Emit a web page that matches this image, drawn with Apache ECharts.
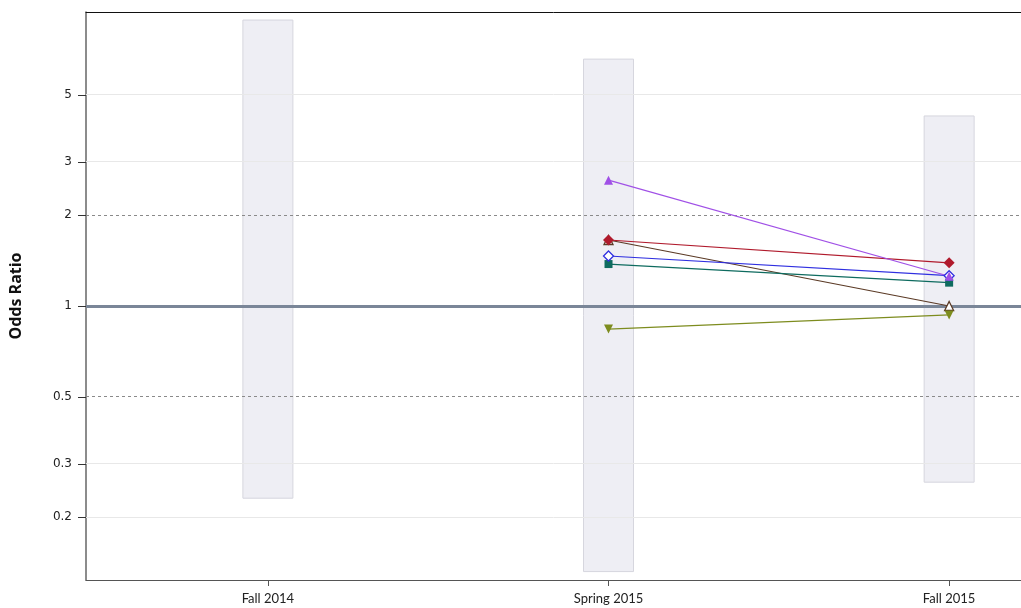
<!DOCTYPE html>
<html>
<head>
<meta charset="utf-8">
<script src="https://cdn.jsdelivr.net/npm/echarts@6/dist/echarts.min.js"></script>
<style>html,body{margin:0;padding:0;background:#fff}#chart{width:1021px;height:608px}</style>
</head>
<body>
<div id="chart"></div>
<script>
// terms on the x axis
const categories = ['Fall 2014', 'Spring 2015', 'Fall 2015'];
const yTicks = [0.2, 0.3, 0.5, 1, 2, 3, 5];
// grey range boxes (odds ratio low / high per term)
const rangeLow = [0.231, 0.132, 0.261];
const rangeHigh = [8.85, 6.57, 4.26];
// odds ratios per group (null = no value)
const purpleVals = [null, 2.61, 1.255];
const redVals = [null, 1.654, 1.39];
const brownVals = [null, 1.654, 1.0];
const blueVals = [null, 1.464, 1.26];
const tealVals = [null, 1.377, 1.195];
const oliveVals = [null, 0.839, 0.934];

const lg = Math.log10;

function toPoints(vals) {
    const out = [];
    vals.forEach(function (v, i) { if (v != null) out.push([i, lg(v)]); });
    return out;
}

function lineSeries(vals, color, symbol, hollow, size) {
    return {
        type: 'line', data: toPoints(vals), z: 5,
        symbol: symbol, symbolSize: size || 9, showAllSymbol: true,
        lineStyle: { color: color, width: 1.2 },
        itemStyle: { color: hollow ? '#fff' : color, borderColor: color, borderWidth: hollow ? 1.3 : 0 },
        animation: false
    };
}

const chart = echarts.init(document.getElementById('chart'));
const option = {
    animation: false,
    grid: { left: 85, right: 0, top: 12, bottom: 28 },
    xAxis: [{
        type: 'value', min: -0.534, max: 2.211,
        axisLine: { onZero: false, lineStyle: { color: '#555', width: 1.2 } },
        axisTick: { customValues: [0, 1, 2], length: 6, lineStyle: { color: '#555' } },
        axisLabel: {
            customValues: [0, 1, 2], margin: 12,
            formatter: function (v) { return categories[Math.round(v)]; },
            color: '#222', fontFamily: 'Lato', fontSize: 13
        },
        splitLine: { show: false }
    }, {
        type: 'value', position: 'top', min: -0.534, max: 2.211,
        axisLine: { show: true, onZero: false, lineStyle: { color: '#111', width: 1 } },
        axisTick: { show: false }, axisLabel: { show: false }, splitLine: { show: false }
    }],
    yAxis: {
        type: 'value', min: lg(0.1238), max: lg(9.41),
        name: 'Odds Ratio', nameLocation: 'middle', nameGap: 62, nameRotate: 90,
        nameTextStyle: { fontFamily: 'Open Sans', fontWeight: 'bold', fontSize: 16, color: '#111' },
        axisLine: { show: true, onZero: false, lineStyle: { color: '#666', width: 1.5 } },
        axisTick: { show: true, customValues: yTicks.map(lg), length: 8, lineStyle: { color: '#333' } },
        axisLabel: {
            customValues: yTicks.map(lg), margin: 14,
            formatter: function (v) { return String(Math.round(Math.pow(10, v) * 10) / 10); },
            color: '#222', fontFamily: 'DejaVu Sans', fontSize: 12
        },
        splitLine: { show: false }
    },
    series: [
        {
            type: 'custom', z: 1,
            data: categories.map(function (c, i) { return [i, lg(rangeLow[i]), lg(rangeHigh[i])]; }),
            encode: { x: 0, y: [1, 2] },
            renderItem: function (params, api) {
                const top = api.coord([api.value(0), api.value(2)]);
                const bot = api.coord([api.value(0), api.value(1)]);
                return {
                    type: 'rect',
                    shape: { x: top[0] - 25, y: top[1], width: 50, height: bot[1] - top[1] },
                    style: { fill: '#eeeef4', stroke: '#d6d6de', lineWidth: 1 }
                };
            }
        },
        {
            type: 'line', data: [], z: 3,
            markLine: {
                silent: true, symbol: 'none', label: { show: false }, animation: false,
                data: [
                    { yAxis: lg(5), lineStyle: { color: '#e8e8e8', type: 'solid', width: 1 } },
                    { yAxis: lg(3), lineStyle: { color: '#e8e8e8', type: 'solid', width: 1 } },
                    { yAxis: lg(0.3), lineStyle: { color: '#e8e8e8', type: 'solid', width: 1 } },
                    { yAxis: lg(0.2), lineStyle: { color: '#e8e8e8', type: 'solid', width: 1 } },
                    { yAxis: lg(2), lineStyle: { color: '#8a8a8a', type: [3, 3], width: 1 } },
                    { yAxis: lg(0.5), lineStyle: { color: '#8a8a8a', type: [3, 3], width: 1 } },
                    { yAxis: lg(1), lineStyle: { color: '#7a8698', type: 'solid', width: 3 } }
                ]
            }
        },
        lineSeries(brownVals, '#5b3a25', 'triangle', true, 9),
        lineSeries(oliveVals, '#7d8c1e', 'path://M0,0 L10,0 L5,9 Z', false, 9),
        lineSeries(tealVals, '#0e6b5f', 'rect', false, 8),
        lineSeries(blueVals, '#2f2fe0', 'diamond', true, 10),
        lineSeries(redVals, '#b01a2c', 'diamond', false, 11),
        lineSeries(purpleVals, '#a050e6', 'triangle', false, 9)
    ]
};
chart.setOption(option);
</script>
</body>
</html>
